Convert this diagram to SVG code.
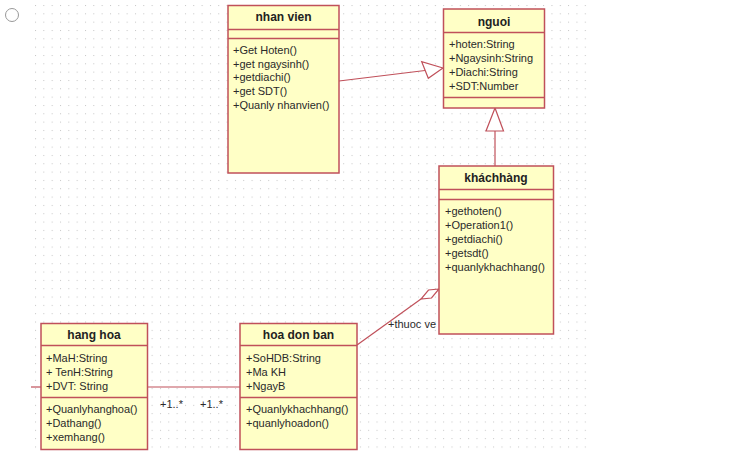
<svg xmlns="http://www.w3.org/2000/svg" width="732" height="468" viewBox="0 0 732 468">
<defs>
<pattern id="grid" x="35" y="5" width="8.33" height="8.33" patternUnits="userSpaceOnUse">
<rect x="0" y="0" width="1" height="1" fill="#c4c4c4"/>
</pattern>
<style>
.box{fill:#ffffc6;stroke:#c0505a;stroke-width:1.5}
.sep{stroke:#c0505a;stroke-width:1.3;fill:none}
.title{font-family:"Liberation Sans",Arial,sans-serif;font-size:12px;font-weight:bold;fill:#222;text-anchor:middle}
.t{font-family:"Liberation Sans",Arial,sans-serif;font-size:11px;fill:#2a2a2a}
.lbl{font-family:"Liberation Sans",Arial,sans-serif;font-size:11px;fill:#2a2a2a}
.con{stroke:#c0505a;stroke-width:1.2;fill:none}
.head{stroke:#c0505a;stroke-width:1.2;fill:#ffffff}
</style>
</defs>
<rect x="0" y="0" width="732" height="468" fill="#ffffff"/>
<rect x="33" y="0" width="560" height="450" fill="url(#grid)"/>
<circle cx="12" cy="15" r="6.5" fill="#ffffff" stroke="#999" stroke-width="1"/>

<g id="connectors">
<line class="con" x1="339" y1="81" x2="425" y2="70.5"/>
<polygon class="head" points="443,68 421.7,61.7 428.3,78.3"/>
<line class="con" x1="495" y1="131" x2="495" y2="166"/>
<polygon class="head" points="495,108 486,131 503.5,131"/>
<line class="con" x1="357" y1="345" x2="421" y2="299"/>
<polygon class="head" points="439,289 428.5,290 421,299 431.5,298"/>
<text class="lbl" x="388" y="328">+thuoc ve</text>
<line class="con" x1="31" y1="387" x2="41" y2="387"/>
<line class="con" x1="147" y1="387" x2="240" y2="387"/>
<text class="lbl" x="160" y="408">+1..*</text>
<text class="lbl" x="200" y="408">+1..*</text>
</g>

<g id="nhan-vien">
<rect class="box" x="228" y="5.5" width="111" height="167.5"/>
<line class="sep" x1="228" y1="29.5" x2="339" y2="29.5"/>
<line class="sep" x1="228" y1="38.5" x2="339" y2="38.5"/>
<text class="title" x="283.5" y="21">nhan vien</text>
<text class="t" x="233" y="54">+Get Hoten()</text>
<text class="t" x="233" y="67.5">+get ngaysinh()</text>
<text class="t" x="233" y="81">+getdiachi()</text>
<text class="t" x="233" y="94.5">+get SDT()</text>
<text class="t" x="233" y="108.5">+Quanly nhanvien()</text>
</g>

<g id="nguoi">
<rect class="box" x="443.5" y="9" width="101" height="99"/>
<line class="sep" x1="443.5" y1="32.5" x2="544.5" y2="32.5"/>
<line class="sep" x1="443.5" y1="97.5" x2="544.5" y2="97.5"/>
<text class="title" x="494" y="25.5">nguoi</text>
<text class="t" x="449" y="48">+hoten:String</text>
<text class="t" x="449" y="62">+Ngaysinh:String</text>
<text class="t" x="449" y="75.5">+Diachi:String</text>
<text class="t" x="449" y="89.5">+SDT:Number</text>
</g>

<g id="khachhang">
<rect class="box" x="439" y="166" width="114.5" height="168"/>
<line class="sep" x1="439" y1="189.5" x2="553.5" y2="189.5"/>
<line class="sep" x1="439" y1="199.5" x2="553.5" y2="199.5"/>
<text class="title" x="496" y="181.5">kh&#225;chh&#224;ng</text>
<text class="t" x="445" y="214.5">+gethoten()</text>
<text class="t" x="445" y="228.5">+Operation1()</text>
<text class="t" x="445" y="242.5">+getdiachi()</text>
<text class="t" x="445" y="256.5">+getsdt()</text>
<text class="t" x="445" y="270.5">+quanlykhachhang()</text>
</g>

<g id="hang-hoa">
<rect class="box" x="41" y="323.5" width="106.5" height="126"/>
<line class="sep" x1="41" y1="345.5" x2="147.5" y2="345.5"/>
<line class="sep" x1="41" y1="397.5" x2="147.5" y2="397.5"/>
<text class="title" x="94" y="338.5">hang hoa</text>
<text class="t" x="46" y="362">+MaH:String</text>
<text class="t" x="46" y="375.5">+ TenH:String</text>
<text class="t" x="46" y="389.5">+DVT: String</text>
<text class="t" x="46" y="413">+Quanlyhanghoa()</text>
<text class="t" x="46" y="426.5">+Dathang()</text>
<text class="t" x="46" y="440.5">+xemhang()</text>
</g>

<g id="hoa-don-ban">
<rect class="box" x="240" y="323.5" width="117" height="126"/>
<line class="sep" x1="240" y1="345.5" x2="357" y2="345.5"/>
<line class="sep" x1="240" y1="397.5" x2="357" y2="397.5"/>
<text class="title" x="298.5" y="338.5">hoa don ban</text>
<text class="t" x="246" y="362">+SoHDB:String</text>
<text class="t" x="246" y="375.5">+Ma KH</text>
<text class="t" x="246" y="389.5">+NgayB</text>
<text class="t" x="246" y="413">+Quanlykhachhang()</text>
<text class="t" x="246" y="426.5">+quanlyhoadon()</text>
</g>
</svg>
